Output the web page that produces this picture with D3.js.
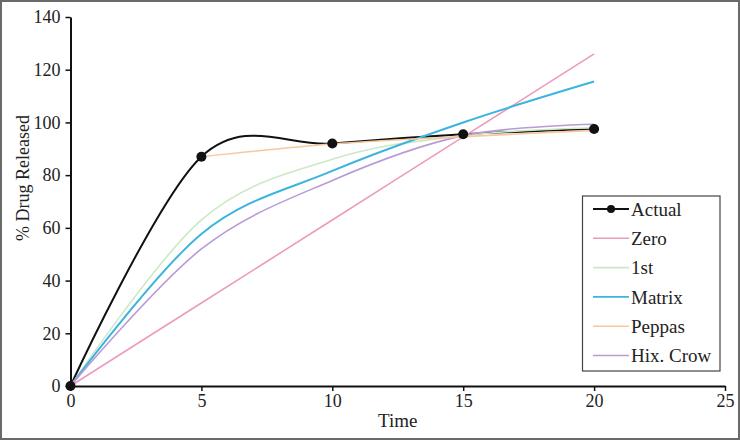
<!DOCTYPE html>
<html>
<head>
<meta charset="utf-8">
<script src="https://cdn.jsdelivr.net/npm/d3@7"></script>
<style>
  body { margin: 0; background: #fff; }
  svg text { font-family: "Liberation Serif", "DejaVu Serif", serif; fill: #222; }
</style>
</head>
<body>
<div id="chart"></div>
<script>
// values
var time = [0, 5, 10, 15, 20];
var actual = [0, 87, 92, 95.5, 97.5];
var zero = [0, 31.5, 63, 94.5, 126];
var first = [0, 63, 86, 95, 98];
var matrix = [0, 57.7, 81.6, 100, 115.5];
var peppas = [null, 87, 91.8, 94.6, 97];
var hix = [0, 52, 78, 95, 99.3];

var seriesNames = ["Actual", "Zero", "1st", "Matrix", "Peppas", "Hix. Crow"];
var seriesColors = ["#111111", "#ec9bbf", "#cde8c6", "#3cb4de", "#f6c99d", "#b89bd5"];
var xTicks = [0, 5, 10, 15, 20, 25];
var yTicks = [0, 20, 40, 60, 80, 100, 120, 140];

var W = 740, H = 440;
var svg = d3.select("#chart").append("svg")
    .attr("width", W)
    .attr("height", H);

svg.append("rect")
    .attr("x", 1).attr("y", 1)
    .attr("width", W - 2).attr("height", H - 2)
    .attr("fill", "#fff")
    .attr("stroke", "#6a6a6a")
    .attr("stroke-width", 2);

var x = d3.scaleLinear().domain([0, 25]).range([70.5, 725]);
var y = d3.scaleLinear().domain([0, 140]).range([386, 17]);

// axes
var xAxis = svg.append("g")
    .attr("transform", "translate(0," + y(0) + ")")
    .call(d3.axisBottom(x).tickValues(xTicks).tickSize(5).tickSizeOuter(0).tickPadding(3));
var yAxis = svg.append("g")
    .attr("transform", "translate(" + x(0) + ",0)")
    .call(d3.axisLeft(y).tickValues(yTicks).tickSize(5).tickSizeOuter(0).tickPadding(5));

[xAxis, yAxis].forEach(function(a) {
  a.select(".domain").attr("stroke", "#111").attr("stroke-width", 2);
  a.selectAll(".tick line").attr("stroke", "#111").attr("stroke-width", 1.5);
  a.selectAll(".tick text")
    .style("font-family", "'Liberation Serif', serif")
    .style("font-size", "18px")
    .attr("fill", "#222");
});

svg.append("text")
    .attr("x", x(12.5) - 0)
    .attr("y", 427)
    .attr("text-anchor", "middle")
    .style("font-size", "19px")
    .text("Time");

svg.append("text")
    .attr("transform", "translate(29,178) rotate(-90)")
    .attr("text-anchor", "middle")
    .style("font-size", "18px")
    .text("% Drug Released");

// lines (actual first, models on top, markers last)
var allSeries = [actual, zero, first, matrix, peppas, hix];
var line = d3.line()
    .x(function(d) { return x(d[0]); })
    .y(function(d) { return y(d[1]); })
    .curve(d3.curveCardinal.tension(0));

var drawOrder = [0, 1, 2, 3, 5, 4];
drawOrder.forEach(function(i) {
  var pts = time.map(function(t, j) { return [t, allSeries[i][j]]; })
                .filter(function(d) { return d[1] != null; });
  svg.append("path")
      .datum(pts)
      .attr("d", line)
      .attr("fill", "none")
      .attr("stroke", seriesColors[i])
      .attr("stroke-width", i == 0 ? 2 : (i == 3 ? 2 : 1.6));
});

svg.selectAll("circle.pt")
    .data(time.map(function(t, j) { return [t, actual[j]]; }))
    .enter().append("circle")
    .attr("class", "pt")
    .attr("cx", function(d) { return x(d[0]); })
    .attr("cy", function(d) { return y(d[1]); })
    .attr("r", 5)
    .attr("fill", "#111");

// legend
var lg = svg.append("g");
lg.append("rect")
    .attr("x", 582.5).attr("y", 196)
    .attr("width", 137.5).attr("height", 175)
    .attr("fill", "#fff")
    .attr("stroke", "#444")
    .attr("stroke-width", 1.2);

seriesNames.forEach(function(name, i) {
  var yy = 209 + i * 29.3;
  lg.append("line")
      .attr("x1", 593).attr("x2", 629)
      .attr("y1", yy).attr("y2", yy)
      .attr("stroke", seriesColors[i])
      .attr("stroke-width", i == 0 ? 2 : 1.6);
  if (i == 0) {
    lg.append("circle").attr("cx", 611).attr("cy", yy).attr("r", 4).attr("fill", "#111");
  }
  lg.append("text")
      .attr("x", 631)
      .attr("y", yy)
      .attr("dy", "0.35em")
      .style("font-size", "19px")
      .text(name);
});
</script>
</body>
</html>
